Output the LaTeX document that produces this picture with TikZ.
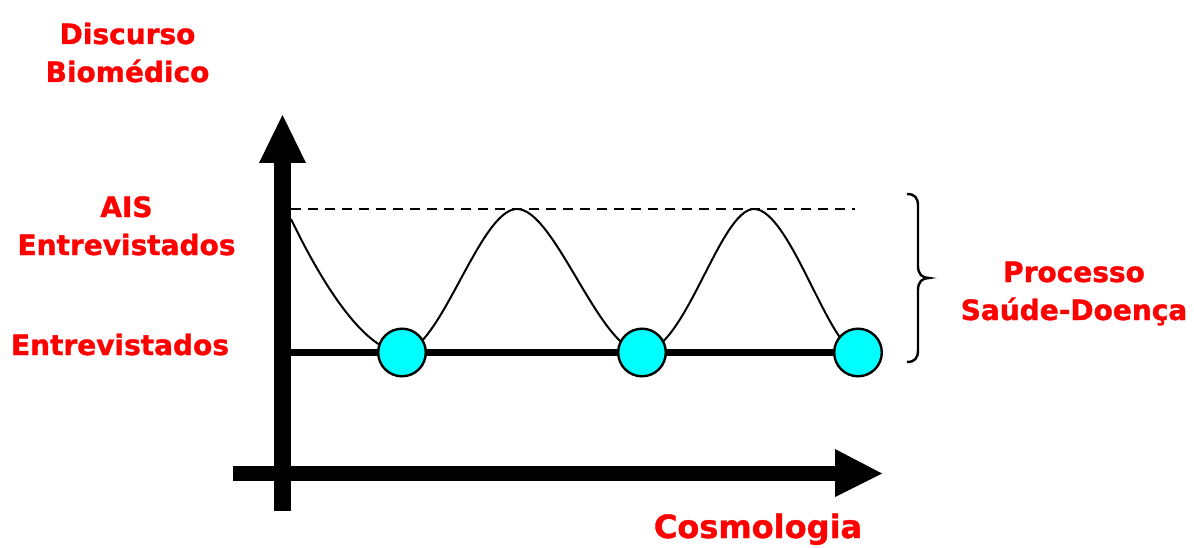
\documentclass[tikz,border=0pt]{standalone}
\usepackage{fontspec}
\setmainfont{DejaVu Sans}[BoldFeatures={FakeBold=1.2}]
\definecolor{aqua}{RGB}{0,255,255}
\definecolor{pured}{RGB}{255,0,0}
\begin{document}
\begin{tikzpicture}[x=1pt,y=-1pt,
  lbl/.style={text=pured, font=\bfseries\fontsize{28}{38}\selectfont, inner sep=0pt, align=center},
  bigl/.style={lbl, font=\bfseries\fontsize{32}{38}\selectfont},
  dot/.style={circle, draw=black, line width=2.4pt, fill=aqua, minimum size=47.6pt, inner sep=0pt},
  wave/.style={draw=black, line width=2pt},
  baseln/.style={draw=black, line width=7pt},
  dashln/.style={draw=black, line width=2.4pt, dash pattern=on 10pt off 7pt},
  bracel/.style={draw=black, line width=2.4pt},
  axisfill/.style={fill=black}]
\useasboundingbox (0,0) rectangle (1194,548);

% axes
\fill[axisfill] (274,163) rectangle (291,511);
\fill[axisfill] (259,163) -- (306,163) -- (282.5,115) -- cycle;
\fill[axisfill] (233,466) rectangle (836,481);
\fill[axisfill] (835,449) -- (835,497) -- (882,473.5) -- cycle;

% reference coordinates
\coordinate (s) at (291,219);
\coordinate (b0) at (291,352.5);
\coordinate (d0) at (291,209);
\coordinate (d1) at (855,209);
\coordinate (p1) at (517,209);
\coordinate (p2) at (754,209);
\coordinate (c1pos) at (402,352.5);
\coordinate (c2pos) at (642,352.5);
\coordinate (c3pos) at (858,352.5);

% dashed line
\draw[dashln] (d0) -- (d1);
% base line
\draw[baseln] (b0) -- (c3pos);
% wave
\draw[wave] (s) .. controls (330,300) and (370,352) .. (c1pos)
  .. controls (440,352) and (480,209) .. (p1)
  .. controls (555,209) and (600,352) .. (c2pos)
  .. controls (685,352) and (720,209) .. (p2)
  .. controls (790,209) and (830,352) .. (c3pos);

% circles
\node[dot] (c1) at (c1pos) {};
\node[dot] (c2) at (c2pos) {};
\node[dot] (c3) at (c3pos) {};

% brace
\draw[bracel] (907,194) .. controls (915,194) and (918,198) .. (918,206)
  -- (918,266) .. controls (918,274) and (922,278) .. (929,278)
  .. controls (922,278) and (918,282) .. (918,290)
  -- (918,350) .. controls (918,358) and (915,362) .. (907,362);

% labels
\node[lbl, anchor=base] (disc) at (127.5,82) {Discurso\\Biomédico};
\node[lbl, anchor=base] (ais) at (126.5,255) {AIS\\Entrevistados};
\node[lbl, anchor=base] (ent) at (120,355) {Entrevistados};
\node[lbl, anchor=base] (proc) at (1074,320) {Processo\\Saúde-Doença};
\node[bigl, anchor=base] (cosmo) at (758,538) {Cosmologia};
\end{tikzpicture}
\end{document}
